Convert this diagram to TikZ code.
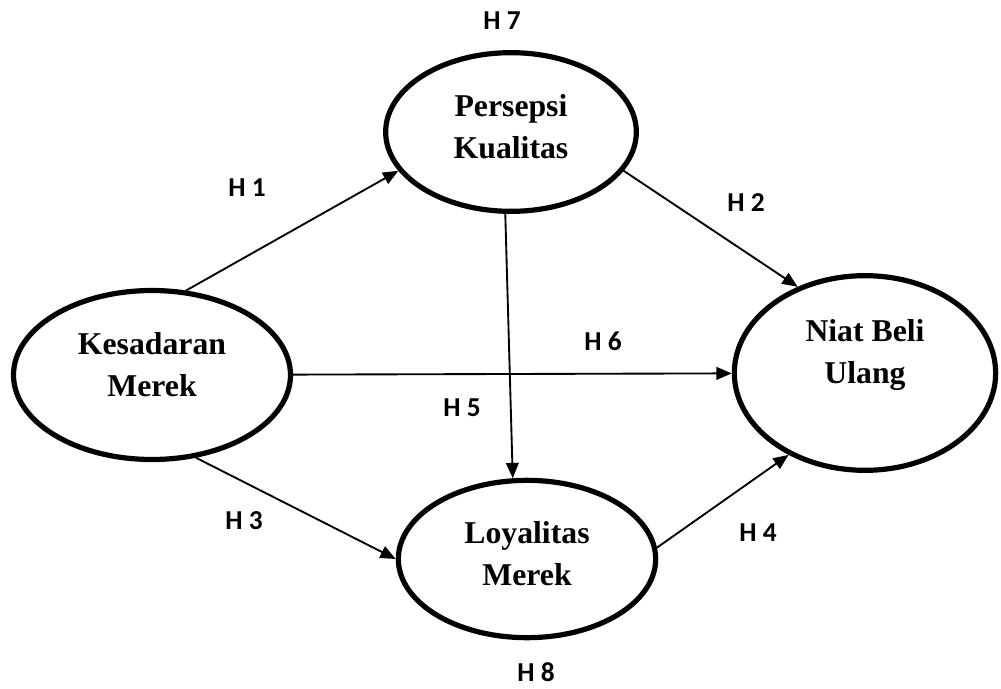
\documentclass[tikz,border=0pt]{standalone}
\usepackage{fontspec}
\setmainfont{Liberation Serif}
\newfontfamily\labelfont{Carlito}
\usetikzlibrary{shapes.geometric,arrows.meta}

\begin{document}
\begin{tikzpicture}[x=0.75pt,y=-0.75pt,
  latent/.style={draw,ellipse,line width=3.9pt,inner sep=0pt},
  varname/.style={font=\bfseries\fontsize{23.8}{31.5}\selectfont,align=center},
  hyp/.style={font=\labelfont\bfseries\fontsize{20.5}{24}\selectfont,inner sep=1pt},
  relpath/.style={line width=1.4pt,-{Triangle[length=11.5pt,width=9.5pt]}}]
\useasboundingbox (0,0) rectangle (1001,689);
% variabel laten
\node[latent,minimum width=207.75pt,minimum height=126.75pt] (kes) at (152,375) {};
\node[latent,minimum width=188pt,minimum height=119pt] (per) at (511,132) {};
\node[latent,minimum width=196pt,minimum height=146pt] (niat) at (865,373) {};
\node[latent,minimum width=193pt,minimum height=118pt] (loy) at (527,559) {};
\node[varname] (kestext) at ([yshift=7.5pt]kes.center) {Kesadaran\\Merek};
\node[varname] (pertext) at ([yshift=4pt]per.center) {Persepsi\\Kualitas};
\node[varname] (niattext) at ([yshift=13.5pt]niat.center) {Niat Beli\\Ulang};
\node[varname] (loytext) at ([yshift=4pt]loy.center) {Loyalitas\\Merek};
% hipotesis
\draw[relpath] (kes.68) -- (per.199);
\draw[relpath] (per.341) -- (niat.128);
\draw[relpath] (kes) -- (niat);
\draw[relpath] (per.266) -- (loy.100);
\draw[relpath] (kes.298) -- (loy.180);
\draw[relpath] (loy.5) -- (niat.227);
\node[hyp] (h1) at (247,188) {H 1};
\node[hyp] (h2) at (746,203) {H 2};
\node[hyp] (h3) at (244,521) {H 3};
\node[hyp] (h4) at (758,533) {H 4};
\node[hyp] (h5) at (462,408) {H 5};
\node[hyp] (h6) at (603,341) {H 6};
\node[hyp] (h7) at (502,21) {H 7};
\node[hyp] (h8) at (536,672) {H 8};
\end{tikzpicture}
\end{document}
